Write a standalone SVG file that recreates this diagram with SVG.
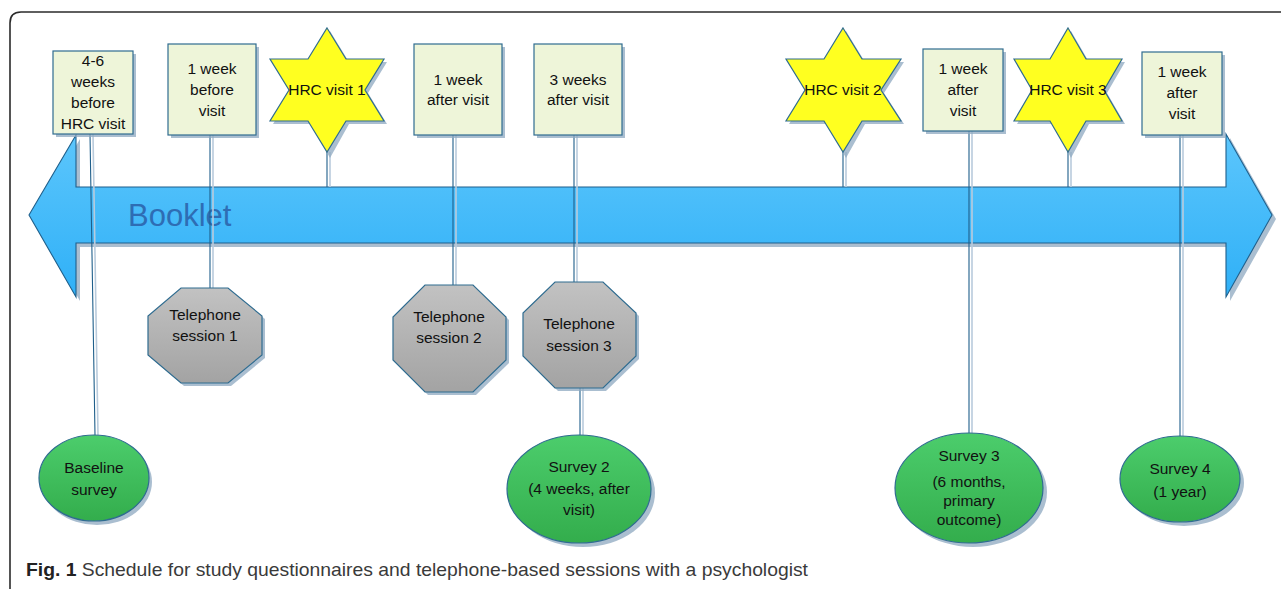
<svg xmlns="http://www.w3.org/2000/svg" width="1281" height="589" viewBox="0 0 1281 589">
<style>
.lbl{font-family:"Liberation Sans",Arial,sans-serif;font-size:15.5px;fill:#111;text-anchor:middle}
.box{fill:#eef5d9;stroke:#2f6c90;stroke-width:1.2}
.star{fill:#ffff20;stroke:#2f6c90;stroke-width:1.2}
.oct{fill:url(#gGray);stroke:#2f6c90;stroke-width:1.2}
.ell{fill:url(#gGreen);stroke:#2f6c90;stroke-width:1.2}
.sh{fill:#8ea8c0;opacity:0.75;stroke:none}
.ln{stroke:#1f5f8b;stroke-width:1.1;fill:none}
.lns{stroke:#b9cbdc;stroke-width:1.6;fill:none}
</style>
<defs>
<linearGradient id="gBlue" x1="0" y1="0" x2="0" y2="1">
<stop offset="0" stop-color="#5cc6fc"/><stop offset="1" stop-color="#2fb0f7"/>
</linearGradient>
<linearGradient id="gGray" x1="0" y1="0" x2="0" y2="1">
<stop offset="0" stop-color="#c2c2c2"/><stop offset="1" stop-color="#a3a3a3"/>
</linearGradient>
<linearGradient id="gGreen" x1="0" y1="0" x2="0" y2="1">
<stop offset="0" stop-color="#4ccd6c"/><stop offset="1" stop-color="#33ad4c"/>
</linearGradient>
</defs>
<rect width="1281" height="589" fill="#fff"/>
<path d="M10,589 V23 Q10,12 21,12 H1281" fill="none" stroke="#2b2b2b" stroke-width="1.6"/>

<g id="booklet">
<path class="sh" d="M33,219 L80,139 L80,191 L1230,191 L1230,138 L1276,219 L1230,301 L1230,247 L80,247 L80,301 Z"/>
<path d="M29,215 L76,135 L76,187 L1226,187 L1226,134 L1272,215 L1226,297 L1226,243 L76,243 L76,297 Z" fill="url(#gBlue)" stroke="#1f5f8b" stroke-width="1.1"/>
<text x="128" y="226" font-family="'Liberation Sans',Arial,sans-serif" font-size="31" fill="#2e6db4">Booklet</text>
</g>

<g id="connectors">
<path class="lns" d="M93,134 L98,435 M213,135 V288 M330,152 V187 M456,135 V285 M577,135 V282 M583,388 V435 M846,152 V187 M972,131 V433 M1071,152 V187 M1183,135 V436"/>
<path class="ln" d="M90,134 L95,435 M210,135 V288 M327,152 V187 M453,135 V285 M574,135 V282 M580,388 V435 M843,152 V187 M969,131 V433 M1068,152 V187 M1180,135 V436"/>
</g>

<g id="box1">
<rect class="sh" x="56" y="54" width="80" height="83"/>
<rect class="box" x="53" y="51" width="80" height="83"/>
<text class="lbl"><tspan x="93" y="66">4-6</tspan><tspan x="93" y="87">weeks</tspan><tspan x="93" y="108">before</tspan><tspan x="93" y="129">HRC visit</tspan></text>
</g>
<g id="box2">
<rect class="sh" x="171" y="47" width="88" height="91"/>
<rect class="box" x="168" y="44" width="88" height="91"/>
<text class="lbl"><tspan x="212" y="74">1 week</tspan><tspan x="212" y="95">before</tspan><tspan x="212" y="116">visit</tspan></text>
</g>
<g id="star1">
<polygon class="sh" points="330,31 349,62 387,62 368,93 387,124 349,124 330,158 311,124 273,124 292,93 273,62 311,62"/>
<polygon class="star" points="327,28 346,59 384,59 365,90 384,121 346,121 327,152 308,121 270,121 289,90 270,59 308,59"/>
<text class="lbl" x="327" y="95">HRC visit 1</text>
</g>
<g id="box3">
<rect class="sh" x="417" y="47" width="88" height="91"/>
<rect class="box" x="414" y="44" width="88" height="91"/>
<text class="lbl"><tspan x="458" y="85">1 week</tspan><tspan x="458" y="105">after visit</tspan></text>
</g>
<g id="box4">
<rect class="sh" x="537" y="47" width="88" height="91"/>
<rect class="box" x="534" y="44" width="88" height="91"/>
<text class="lbl"><tspan x="578" y="85">3 weeks</tspan><tspan x="578" y="105">after visit</tspan></text>
</g>
<g id="star2">
<polygon class="sh" points="846,31 865,62 904,62 884,93 904,124 865,124 846,158 827,124 789,124 808,93 789,62 827,62"/>
<polygon class="star" points="843,28 862,59 901,59 881,90 901,121 862,121 843,152 824,121 786,121 805,90 786,59 824,59"/>
<text class="lbl" x="843" y="95">HRC visit 2</text>
</g>
<g id="box5">
<rect class="sh" x="926" y="52" width="80" height="82"/>
<rect class="box" x="923" y="49" width="80" height="82"/>
<text class="lbl"><tspan x="963" y="74">1 week</tspan><tspan x="963" y="95">after</tspan><tspan x="963" y="116">visit</tspan></text>
</g>
<g id="star3">
<polygon class="sh" points="1071,31 1089,62 1125,62 1107,93 1125,124 1089,124 1071,158 1053,124 1017,124 1035,93 1017,62 1053,62"/>
<polygon class="star" points="1068,28 1086,59 1122,59 1104,90 1122,121 1086,121 1068,152 1050,121 1014,121 1032,90 1014,59 1050,59"/>
<text class="lbl" x="1068" y="95">HRC visit 3</text>
</g>
<g id="box6">
<rect class="sh" x="1145" y="55" width="80" height="83"/>
<rect class="box" x="1142" y="52" width="80" height="83"/>
<text class="lbl"><tspan x="1182" y="77">1 week</tspan><tspan x="1182" y="98">after</tspan><tspan x="1182" y="119">visit</tspan></text>
</g>

<g id="tel1">
<polygon class="sh" points="184,291 231,291 265,319 265,358 231,386 184,386 151,358 151,319"/>
<polygon class="oct" points="181,288 228,288 262,316 262,355 228,383 181,383 148,355 148,316"/>
<text class="lbl"><tspan x="205" y="320">Telephone</tspan><tspan x="205" y="341">session 1</tspan></text>
</g>
<g id="tel2">
<polygon class="sh" points="428,288 476,288 509,320 509,363 476,395 428,395 396,363 396,320"/>
<polygon class="oct" points="425,285 473,285 506,317 506,360 473,392 425,392 393,360 393,317"/>
<text class="lbl"><tspan x="449" y="322">Telephone</tspan><tspan x="449" y="343">session 2</tspan></text>
</g>
<g id="tel3">
<polygon class="sh" points="558,285 606,285 639,316 639,359 606,391 558,391 526,359 526,316"/>
<polygon class="oct" points="555,282 603,282 636,313 636,356 603,388 555,388 523,356 523,313"/>
<text class="lbl"><tspan x="579" y="329">Telephone</tspan><tspan x="579" y="351">session 3</tspan></text>
</g>

<g id="survey1">
<ellipse class="sh" cx="97" cy="482" rx="55" ry="43"/>
<ellipse class="ell" cx="94" cy="478" rx="55" ry="43"/>
<text class="lbl"><tspan x="94" y="473">Baseline</tspan><tspan x="94" y="495">survey</tspan></text>
</g>
<g id="survey2">
<ellipse class="sh" cx="583" cy="493" rx="72" ry="54"/>
<ellipse class="ell" cx="579" cy="489" rx="72" ry="54"/>
<text class="lbl"><tspan x="579" y="472">Survey 2</tspan><tspan x="579" y="494">(4 weeks, after</tspan><tspan x="579" y="515">visit)</tspan></text>
</g>
<g id="survey3">
<ellipse class="sh" cx="973" cy="492" rx="74" ry="55"/>
<ellipse class="ell" cx="969" cy="488" rx="74" ry="55"/>
<text class="lbl"><tspan x="969" y="461">Survey 3</tspan><tspan x="969" y="487">(6 months,</tspan><tspan x="969" y="506">primary</tspan><tspan x="969" y="525">outcome)</tspan></text>
</g>
<g id="survey4">
<ellipse class="sh" cx="1184" cy="483" rx="60" ry="43"/>
<ellipse class="ell" cx="1180" cy="479" rx="60" ry="43"/>
<text class="lbl"><tspan x="1180" y="474">Survey 4</tspan><tspan x="1180" y="497">(1 year)</tspan></text>
</g>

<text x="26" y="576" font-family="'Liberation Sans',Arial,sans-serif" font-size="18.5" fill="#3a3a3a" textLength="782" lengthAdjust="spacingAndGlyphs"><tspan font-weight="bold" fill="#222">Fig. 1</tspan> Schedule for study questionnaires and telephone-based sessions with a psychologist</text>
</svg>
